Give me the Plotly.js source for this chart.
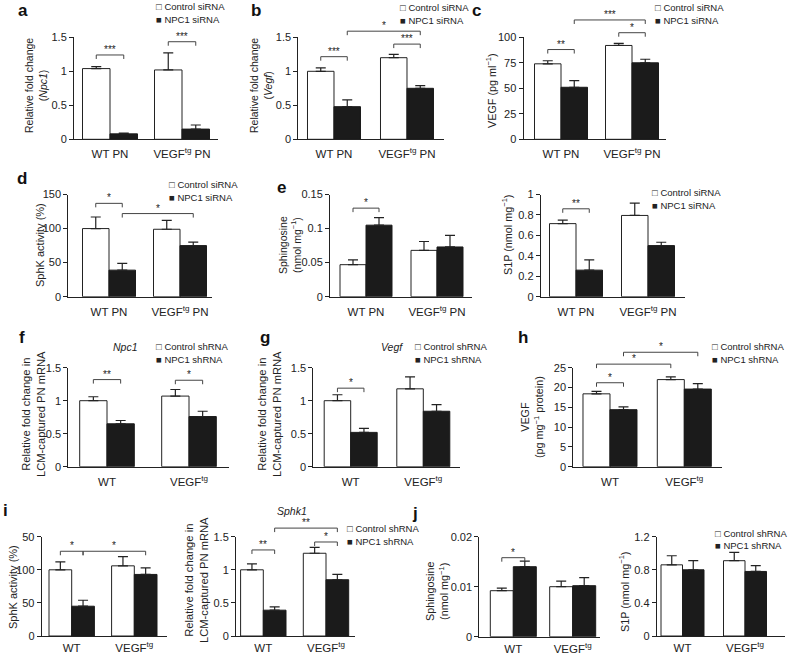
<!DOCTYPE html>
<html><head><meta charset="utf-8">
<script src="https://cdn.plot.ly/plotly-3.0.1.min.js"></script>
<style>html,body{margin:0;padding:0;background:#fff}</style>
</head><body><div id="chart" style="width:788px;height:653px"></div>
<script>
// ================= DATA =================
const catSi = ['WT PN', 'VEGF<sup>tg</sup> PN'];
const catSh = ['WT', 'VEGF<sup>tg</sup>'];
const namesSi = ['Control siRNA', 'NPC1 siRNA'];
const namesSh = ['Control shRNA', 'NPC1 shRNA'];

// a: Npc1 relative fold change
const aCtrl = [1.04, 1.02], aCtrlSem = [0.03, 0.25];
const aNpc  = [0.08, 0.15], aNpcSem  = [0.01, 0.06];
// b: Vegf relative fold change
const bCtrl = [1.00, 1.20], bCtrlSem = [0.05, 0.05];
const bNpc  = [0.48, 0.75], bNpcSem  = [0.10, 0.04];
// c: VEGF (pg/ml)
const cCtrl = [74, 92], cCtrlSem = [3, 2];
const cNpc  = [51, 75], cNpcSem  = [6.5, 3.5];
// d: SphK activity (%)
const dCtrl = [100, 99], dCtrlSem = [17, 13];
const dNpc  = [39, 75],  dNpcSem  = [10, 5];
// e: Sphingosine (nmol/mg)
const eCtrl = [0.047, 0.068], eCtrlSem = [0.007, 0.013];
const eNpc  = [0.105, 0.073], eNpcSem  = [0.011, 0.017];
// e right: S1P (nmol/mg)
const sCtrl = [0.715, 0.795], sCtrlSem = [0.035, 0.12];
const sNpc  = [0.26, 0.50],   sNpcSem  = [0.10, 0.033];
// f: Npc1 LCM
const fCtrl = [1.00, 1.07], fCtrlSem = [0.06, 0.10];
const fNpc  = [0.65, 0.76], fNpcSem  = [0.05, 0.08];
// g: Vegf LCM
const gCtrl = [1.00, 1.18], gCtrlSem = [0.09, 0.18];
const gNpc  = [0.52, 0.84], gNpcSem  = [0.06, 0.10];
// h: VEGF (pg/mg protein)
const hCtrl = [18.4, 22.0], hCtrlSem = [0.6, 0.7];
const hNpc  = [14.4, 19.6], hNpcSem  = [0.7, 1.4];
// i: SphK activity (%)
const iCtrl = [100, 106], iCtrlSem = [12, 14];
const iNpc  = [45, 93],   iNpcSem  = [9, 10];
// i right: Sphk1 LCM
const kCtrl = [1.00, 1.25], kCtrlSem = [0.09, 0.09];
const kNpc  = [0.39, 0.85], kNpcSem  = [0.05, 0.08];
// j: Sphingosine (nmol/mg)
const jCtrl = [0.0092, 0.0100], jCtrlSem = [0.0005, 0.0011];
const jNpc  = [0.0140, 0.0102], jNpcSem  = [0.0011, 0.0016];
// j right: S1P (nmol/mg)
const mCtrl = [0.86, 0.91], mCtrlSem = [0.11, 0.10];
const mNpc  = [0.80, 0.78], mNpcSem  = [0.11, 0.07];

// tick values / labels
const tv15 = [0, 0.5, 1, 1.5],         tt15 = ['0', '0.5', '1', '1.5'];
const tv100 = [0, 25, 50, 75, 100],    tt100 = ['0', '25', '50', '75', '100'];
const tv150 = [0, 50, 100, 150],       tt150 = ['0', '50', '100', '150'];
const tt150i = ['0', '50', '100', '50'];
const tvSph = [0, 0.05, 0.1, 0.15],    ttSph = ['0', '0.05', '0.1', '0.15'];
const tv1 = [0, 0.2, 0.4, 0.6, 0.8, 1], tt1 = ['0', '0.2', '0.4', '0.6', '0.8', '1'];
const tv25 = [0, 5, 10, 15, 20, 25],   tt25 = ['0', '5', '10', '15', '20', '25'];
const tv02 = [0, 0.01, 0.02],          tt02 = ['0', '0.01', '0.02'];
const tv12 = [0, 0.4, 0.8, 1.2],       tt12 = ['0', '0.4', '0.8', '1.2'];

// significance brackets: [panel, catFrom, seriesFrom, catTo, seriesTo, height, label]
const brackets = [
  ['a', 0, 0, 0, 1, 1.24, '***'], ['a', 1, 0, 1, 1, 1.435, '***'],
  ['b', 0, 0, 0, 1, 1.215, '***'], ['b', 1, 0, 1, 1, 1.40, '***'], ['b', 0, 1, 1, 1, 1.59, '*'],
  ['c', 0, 0, 0, 1, 88, '**'], ['c', 1, 0, 1, 1, 104.5, '*'], ['c', 0, 1, 1, 1, 117, '***'],
  ['d', 0, 0, 0, 1, 137, '*'], ['d', 0, 1, 1, 1, 122, '*'],
  ['e', 0, 0, 0, 1, 0.13, '*'],
  ['s', 0, 0, 0, 1, 0.86, '**'],
  ['f', 0, 0, 0, 1, 1.32, '**'], ['f', 1, 0, 1, 1, 1.31, '*'],
  ['g', 0, 0, 0, 1, 1.19, '*'],
  ['h', 0, 0, 0, 1, 21.2, '*'], ['h', 0, 0, 1, 0, 25.9, '*'], ['h', 0, 1, 1, 1, 28.9, '*'],
  ['i', 0, 0, 0, 1, 128, '*'], ['i', 0, 1, 1, 1, 128, '*'],
  ['k', 0, 0, 0, 1, 1.30, '**'], ['k', 1, 0, 1, 1, 1.42, '*'], ['k', 0, 1, 1, 1, 1.63, '**'],
  ['j', 0, 0, 0, 1, 0.0158, '*']
];

// ================= LAYOUT / STYLE =================
const W = 788, H = 653;
const FONT = 'Liberation Sans, Arial, Helvetica, sans-serif';
const INK = '#222222';
const BLACKBAR = '#1b1b1b';

const panels = [
  {key:'a', ctrl:aCtrl, cs:aCtrlSem, npc:aNpc, ns:aNpcSem, cats:catSi, names:namesSi, yr:[0,1.5], tv:tv15, tt:tt15,
   yt:'Relative fold change<br>(<i>Npc1</i>)', tf:10.5, tx:36, ty:86, xl:4, g:{x0:74, x1:218, c0:110, c1:182, bw:27.5, yT:37.3, yB:139.3}},
  {key:'b', ctrl:bCtrl, cs:bCtrlSem, npc:bNpc, ns:bNpcSem, cats:catSi, names:namesSi, yr:[0,1.5], tv:tv15, tt:tt15,
   yt:'Relative fold change<br>(<i>Vegf</i>)', tf:10.5, tx:261, ty:86, xl:4, g:{x0:298.3, x1:444, c0:334, c1:407, bw:26.5, yT:37.3, yB:139.3}},
  {key:'c', ctrl:cCtrl, cs:cCtrlSem, npc:cNpc, ns:cNpcSem, cats:catSi, names:namesSi, yr:[0,100], tv:tv100, tt:tt100,
   yt:'VEGF (pg ml<sup>−1</sup>)', tf:10.8, tx:491, ty:90, xl:4, g:{x0:523.5, x1:666, c0:561, c1:632, bw:26.5, yT:37.3, yB:139.3}},
  {key:'d', ctrl:dCtrl, cs:dCtrlSem, npc:dNpc, ns:dNpcSem, cats:catSi, names:namesSi, yr:[0,150], tv:tv150, tt:tt150,
   yt:'SphK activity (%)', tf:11, tx:40, ty:245, xl:4, g:{x0:68.3, x1:212, c0:109, c1:180, bw:26.5, yT:194.5, yB:296.7}},
  {key:'e', ctrl:eCtrl, cs:eCtrlSem, npc:eNpc, ns:eNpcSem, cats:catSi, names:namesSi, yr:[0,0.15], tv:tvSph, tt:ttSph,
   yt:'Sphingosine<br>(nmol mg<sup>−1</sup>)', tf:10.5, tx:290, ty:245, xl:4, g:{x0:330, x1:472, c0:366, c1:437, bw:26, yT:194.5, yB:296.7}},
  {key:'s', ctrl:sCtrl, cs:sCtrlSem, npc:sNpc, ns:sNpcSem, cats:catSi, names:namesSi, yr:[0,1], tv:tv1, tt:tt1,
   yt:'S1P (nmol mg<sup>−1</sup>)', tf:10.8, tx:507, ty:235, xl:4, g:{x0:540.7, x1:685, c0:576, c1:648, bw:26.5, yT:194.5, yB:296.7}},
  {key:'f', ctrl:fCtrl, cs:fCtrlSem, npc:fNpc, ns:fNpcSem, cats:catSh, names:namesSh, yr:[0,1.5], tv:tv15, tt:tt15,
   yt:'Relative fold change in<br>LCM-captured PN mRNA', tf:11.2, tx:34, ty:414, xl:4, g:{x0:68.3, x1:229, c0:107, c1:189, bw:27.3, yT:367.7, yB:466.7}},
  {key:'g', ctrl:gCtrl, cs:gCtrlSem, npc:gNpc, ns:gNpcSem, cats:catSh, names:namesSh, yr:[0,1.5], tv:tv15, tt:tt15,
   yt:'Relative fold change in<br>LCM-captured PN mRNA', tf:11.2, tx:270, ty:414, xl:4, g:{x0:313.3, x1:460, c0:350.7, c1:423.3, bw:26.5, yT:367.7, yB:466.7}},
  {key:'h', ctrl:hCtrl, cs:hCtrlSem, npc:hNpc, ns:hNpcSem, cats:catSh, names:namesSh, yr:[0,25], tv:tv25, tt:tt25,
   yt:'VEGF<br>(pg mg<sup>−1</sup> protein)', tf:10.8, tx:532, ty:417, xl:4, g:{x0:573.3, x1:722, c0:610, c1:684.3, bw:27, yT:367.7, yB:466.7}},
  {key:'i', ctrl:iCtrl, cs:iCtrlSem, npc:iNpc, ns:iNpcSem, cats:catSh, names:namesSh, yr:[0,150], tv:tv150, tt:tt150i,
   yt:'SphK activity (%)', tf:11, tx:13, ty:587, xl:1, g:{x0:41.7, x1:167, c0:71.7, c1:134.3, bw:22.7, yT:536.7, yB:636}},
  {key:'k', ctrl:kCtrl, cs:kCtrlSem, npc:kNpc, ns:kNpcSem, cats:catSh, names:namesSh, yr:[0,1.5], tv:tv15, tt:tt15,
   yt:'Relative fold change in<br>LCM-captured PN mRNA', tf:11.2, tx:196, ty:580, xl:1, g:{x0:236, x1:355, c0:263.3, c1:326, bw:22.7, yT:536.7, yB:636}},
  {key:'j', ctrl:jCtrl, cs:jCtrlSem, npc:jNpc, ns:jNpcSem, cats:catSh, names:namesSh, yr:[0,0.02], tv:tv02, tt:tt02,
   yt:'Sphingosine<br>(nmol mg<sup>−1</sup>)', tf:10.8, tx:437, ty:592, xl:1, g:{x0:479.3, x1:600, c0:513.3, c1:572.7, bw:23, yT:536.7, yB:636.7}},
  {key:'m', ctrl:mCtrl, cs:mCtrlSem, npc:mNpc, ns:mNpcSem, cats:catSh, names:namesSh, yr:[0,1.2], tv:tv12, tt:tt12,
   yt:'S1P (nmol mg<sup>−1</sup>)', tf:10.8, tx:624, ty:592, xl:1, g:{x0:656.7, x1:785, c0:682.5, c1:745, bw:21.5, yT:536.7, yB:636}}
];

// panel letters [text, x px, y px]
const letters = [['a',23,11],['b',256,11],['c',477,11],['d',22,179],['e',281,187],
                 ['f',22,337],['g',265,337],['h',523,337],['i',5,510],['j',415,513]];
// legend blocks [panel, left px, y line1 px, y line2 px]
const legendPos = [['a',154,6.5,19.5],['b',398,7,20],['c',653,7,20],['d',167,185,198],['s',650,192,205.7],
                   ['f',154,346.7,359.3],['g',412.7,346.7,359.3],['h',710,346.7,359.3],['k',345,528.5,541],['m',713,533,545]];
// gene titles [text, x px, y px]
const geneTitles = [['Npc1',125,346.7],['Vegf',392,346.7],['Sphk1',292,511]];

// ================= BUILD =================
const traces = [];
const layout = {
  width: W, height: H, margin: {l:0, r:0, t:0, b:0}, autosize: false,
  barmode: 'overlay', showlegend: false,
  paper_bgcolor: '#ffffff', plot_bgcolor: 'rgba(0,0,0,0)',
  font: {family: FONT, color: INK, size: 11},
  annotations: [], shapes: []
};
const byKey = {};

panels.forEach((p, i) => {
  const n = i + 1;
  const xa = n === 1 ? 'x' : 'x' + n, ya = n === 1 ? 'y' : 'y' + n;
  const xk = n === 1 ? 'xaxis' : 'xaxis' + n, yk = n === 1 ? 'yaxis' : 'yaxis' + n;
  const g = p.g, sp = g.c1 - g.c0, w = g.bw / sp;
  p._w = w; p._sp = sp;
  byKey[p.key] = p;
  const zeros = p.ctrl.map(() => 0);
  const err = arr => ({type:'data', symmetric:false, array:arr, arrayminus:zeros, color:INK, thickness:1.2, width:5});
  traces.push({type:'bar', x:p.cats, y:p.ctrl, name:p.names[0], xaxis:xa, yaxis:ya, width:w, offset:-w,
               marker:{color:'#ffffff', line:{color:INK, width:1}}, error_y:err(p.cs), hoverinfo:'skip'});
  traces.push({type:'bar', x:p.cats, y:p.npc, name:p.names[1], xaxis:xa, yaxis:ya, width:w, offset:0,
               marker:{color:BLACKBAR, line:{color:BLACKBAR, width:1}}, error_y:err(p.ns), hoverinfo:'skip'});
  layout[xk] = {domain:[g.x0 / W, g.x1 / W], anchor:ya, type:'category', range:[(g.x0 - g.c0) / sp, (g.x1 - g.c0) / sp],
    showline:true, linecolor:INK, linewidth:1, ticks:'outside', ticklen:p.xl, tickcolor:'rgba(0,0,0,0)',
    tickfont:{size:11.5, color:INK}, showgrid:false, zeroline:false, fixedrange:true};
  layout[yk] = {domain:[1 - g.yB / H, 1 - g.yT / H], anchor:xa, range:p.yr, tickvals:p.tv, ticktext:p.tt,
    ticks:'outside', ticklen:4, tickcolor:INK, tickwidth:1, showline:true, linecolor:INK, linewidth:1,
    showgrid:false, zeroline:false, fixedrange:true, tickfont:{size:11, color:INK}};
  // y-axis title placed as rotated text beside the axis
  layout.annotations.push({xref:'paper', yref:'paper', x:p.tx / W, y:1 - p.ty / H, xanchor:'center', yanchor:'middle',
    text:p.yt, textangle:-90, showarrow:false, font:{size:p.tf, color:INK}});
});

function barCenterPx(p, cat, ser) {
  const cx = cat + (ser === 0 ? -p._w / 2 : p._w / 2);
  return p.g.c0 + cx * p._sp;
}
function valuePx(p, v) {
  const g = p.g;
  return g.yB - (v - p.yr[0]) / (p.yr[1] - p.yr[0]) * (g.yB - g.yT);
}
brackets.forEach(b => {
  const p = byKey[b[0]];
  const x0 = barCenterPx(p, b[1], b[2]) / W, x1 = barCenterPx(p, b[3], b[4]) / W;
  const yPx = valuePx(p, b[5]);
  const yt = 1 - yPx / H, yb = 1 - (yPx + 4) / H;
  layout.shapes.push({type:'path', xref:'paper', yref:'paper',
    path:`M ${x0},${yb} L ${x0},${yt} L ${x1},${yt} L ${x1},${yb}`, line:{color:'#444', width:1}});
  layout.annotations.push({xref:'paper', yref:'paper', x:(x0 + x1) / 2, y:yt, yanchor:'bottom', xanchor:'center',
    text:b[6], showarrow:false, font:{size:10, color:INK}, yshift:-2});
});
letters.forEach(l => layout.annotations.push({xref:'paper', yref:'paper', x:l[1] / W, y:1 - l[2] / H,
  xanchor:'center', yanchor:'middle', text:'<b>' + l[0] + '</b>', showarrow:false, font:{size:17, color:'#111'}}));
legendPos.forEach(L => {
  const p = byKey[L[0]];
  layout.annotations.push({xref:'paper', yref:'paper', x:L[1] / W, y:1 - L[2] / H, xanchor:'left', yanchor:'middle',
    text:'□ ' + p.names[0], showarrow:false, font:{size:9.5, color:INK}});
  layout.annotations.push({xref:'paper', yref:'paper', x:L[1] / W, y:1 - L[3] / H, xanchor:'left', yanchor:'middle',
    text:'■ ' + p.names[1], showarrow:false, font:{size:9.5, color:INK}});
});
geneTitles.forEach(t => layout.annotations.push({xref:'paper', yref:'paper', x:t[1] / W, y:1 - t[2] / H,
  xanchor:'center', yanchor:'middle', text:'<i>' + t[0] + '</i>', showarrow:false, font:{size:10.5, color:INK}}));

Plotly.newPlot('chart', traces, layout, {staticPlot:true, displayModeBar:false});
</script></body></html>
